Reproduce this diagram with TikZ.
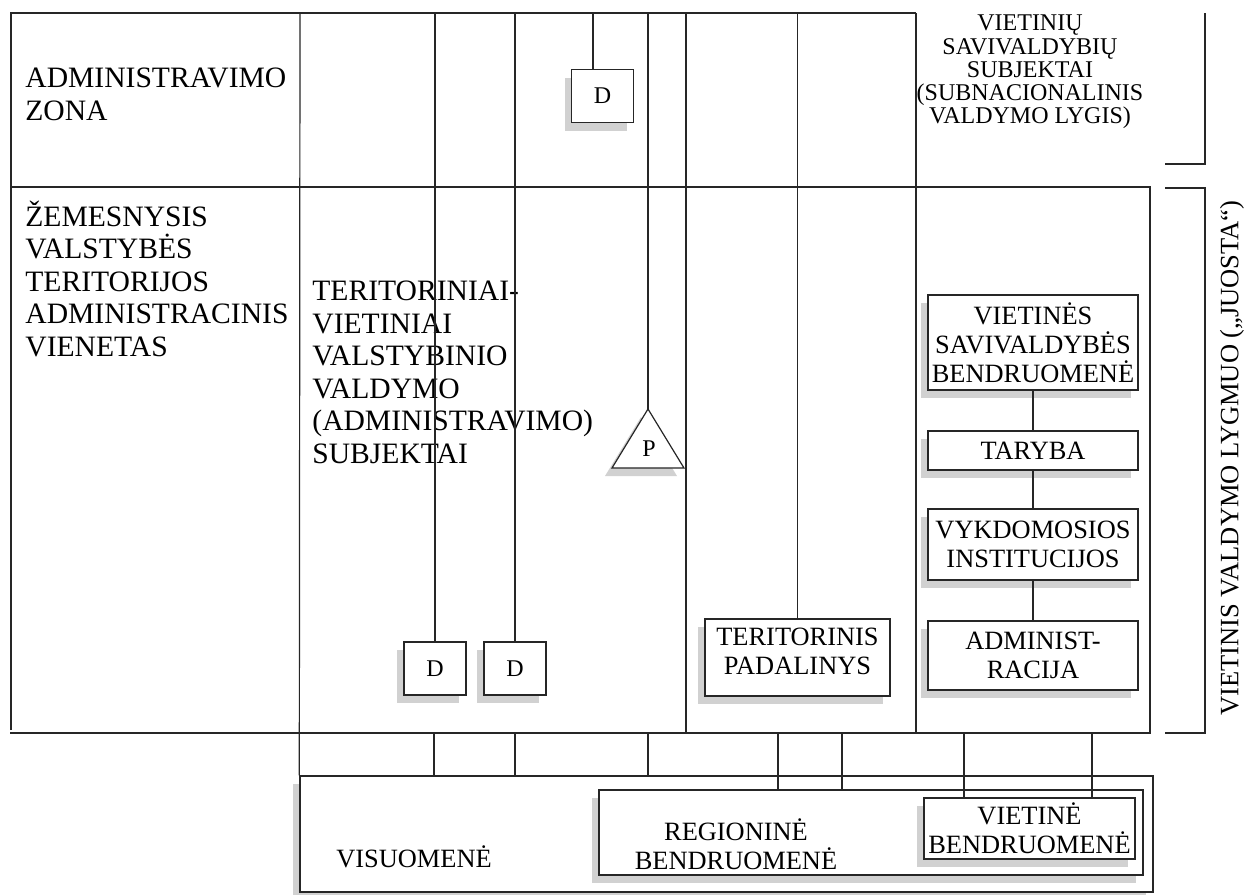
\documentclass[tikz,border=0pt]{standalone}
\usepackage{fontspec}
\setmainfont{Liberation Serif}
\usetikzlibrary{shadows}

\newcommand{\bigtxt}{\fontsize{14.8}{16.25}\selectfont}
\newcommand{\boxtxt}{\fontsize{13.2}{14.6}\selectfont}
\newcommand{\toptxt}{\fontsize{12}{11.6}\selectfont}
\newcommand{\dtxt}{\fontsize{12}{14}\selectfont}

\tikzset{
  thinline/.style={draw=black!85, line width=0.6pt},
  frameline/.style={draw=black!85, line width=1.3pt},
  boxshadow/.style={drop shadow={shadow xshift=-3.5pt, shadow yshift=-4pt, fill=black!18, opacity=1}},
  box/.style={draw=black!85, line width=0.7pt, fill=white, inner sep=0pt, align=center, font=\boxtxt, boxshadow},
  dbox/.style={box, minimum width=31pt, minimum height=26.5pt, font=\dtxt},
  colbox/.style={box, minimum width=105pt},
  bigtext/.style={font=\bigtxt, align=left, inner sep=0pt, anchor=west},
}

\begin{document}
\begin{tikzpicture}[x=0.5pt, y=-0.5pt]
\useasboundingbox (0,0) rectangle (1250,895);
\coordinate (top) at (0,13); \coordinate (bot) at (0,733);
% remas
\draw[frameline] (11,730) -- (11,13) -- (916,13);
\draw[thinline] (916,13) -- (916,733);
\draw[thinline] (10,187) -- (1150,187) -- (1150,733) -- (10,733);
\draw[thinline] (686,13) -- (686,733);
% skliaustai
\draw[thinline] (1165,164) -- (1205,164) -- (1205,13);
\draw[thinline] (1165,188) -- (1205,188) -- (1205,733) -- (1165,733);
% tekstai
\node[bigtext] (zona) at (25,94.5) {ADMINISTRAVIMO\\ZONA};
\node[bigtext] (vienetas) at (25,279) {ŽEMESNYSIS\\VALSTYBĖS\\TERITORIJOS\\ADMINISTRACINIS\\VIENETAS};
\node[bigtext] (subjektai) at (312,372.5) {TERITORINIAI-\\VIETINIAI\\VALSTYBINIO\\VALDYMO\\(ADMINISTRAVIMO)\\SUBJEKTAI};
\node[font=\toptxt, align=center, inner sep=0pt] (savival) at (1030,72) {VIETINIŲ\\SAVIVALDYBIŲ\\SUBJEKTAI\\(SUBNACIONALINIS\\VALDYMO LYGIS)};
\node[font=\fontsize{13.25}{15}\selectfont, rotate=90, inner sep=0pt] (juosta) at (1232,458) {VIETINIS VALDYMO LYGMUO („JUOSTA“)};
% dezutes
\node[dbox] (D0) at (602.5,96) {D};
\node[dbox] (D1) at (435,668.5) {D};
\node[dbox] (D2) at (515,668.5) {D};
\node[box, minimum width=92.5pt, minimum height=38.5pt,
  label={[font=\boxtxt, align=center, yshift=3pt]center:TERITORINIS\\PADALINYS}] (TER) at (797.5,657.5) {};
\node[colbox, minimum height=47.5pt] (VSB) at (1033,342.5) {VIETINĖS\\SAVIVALDYBĖS\\BENDRUOMENĖ};
\node[colbox, minimum height=19.5pt] (TAR) at (1033,450.5) {TARYBA};
\node[colbox, minimum height=35.5pt] (VYK) at (1033,544.5) {VYKDOMOSIOS\\INSTITUCIJOS};
\node[colbox, minimum height=34.5pt] (ADM) at (1033,655.5) {ADMINIST-\\RACIJA};
% trikampis
\coordinate (Ptop) at (648,409);
\draw[thinline, fill=white, boxshadow] (Ptop) -- ++(36,59) -- ++(-72,0) -- cycle;
\node[font=\dtxt] (P) at (649,449) {P};
% bendruomenes
\node[box, minimum width=426.5pt, minimum height=58pt] (VIS) at (726.5,834) {};
\node[box, minimum width=272pt, minimum height=42.5pt] (REG) at (871,832.5) {};
\node[box, minimum width=105.5pt, minimum height=30.5pt] (VIE) at (1029.5,828.5) {VIETINĖ\\BENDRUOMENĖ};
\node[font=\boxtxt] (vistxt) at (414,857) {VISUOMENĖ};
\node[font=\boxtxt, align=center] (regtxt) at (736,844) {REGIONINĖ\\BENDRUOMENĖ};
% jungtys
\draw[thinline] (300,13) -- (VIS.north west);
\coordinate (d0in) at ([xshift=-4.75pt]D0.north);
\draw[thinline] (d0in) -- (d0in |- top);
\foreach \n in {D1,D2,TER} \draw[thinline] (\n.north) -- (\n.north |- top);
\draw[thinline] (Ptop) -- (Ptop |- top);
\draw[thinline] (VSB) -- (TAR) -- (VYK) -- (ADM);
\foreach \x in {434,515,648} \draw[thinline] (\x,0 |- bot) -- (\x,0 |- VIS.north);
\foreach \x in {778,842} \draw[thinline] (\x,0 |- bot) -- (\x,0 |- REG.north);
\foreach \x in {964,1092} \draw[thinline] (\x,0 |- bot) -- (\x,0 |- VIE.north);
\end{tikzpicture}
\end{document}
